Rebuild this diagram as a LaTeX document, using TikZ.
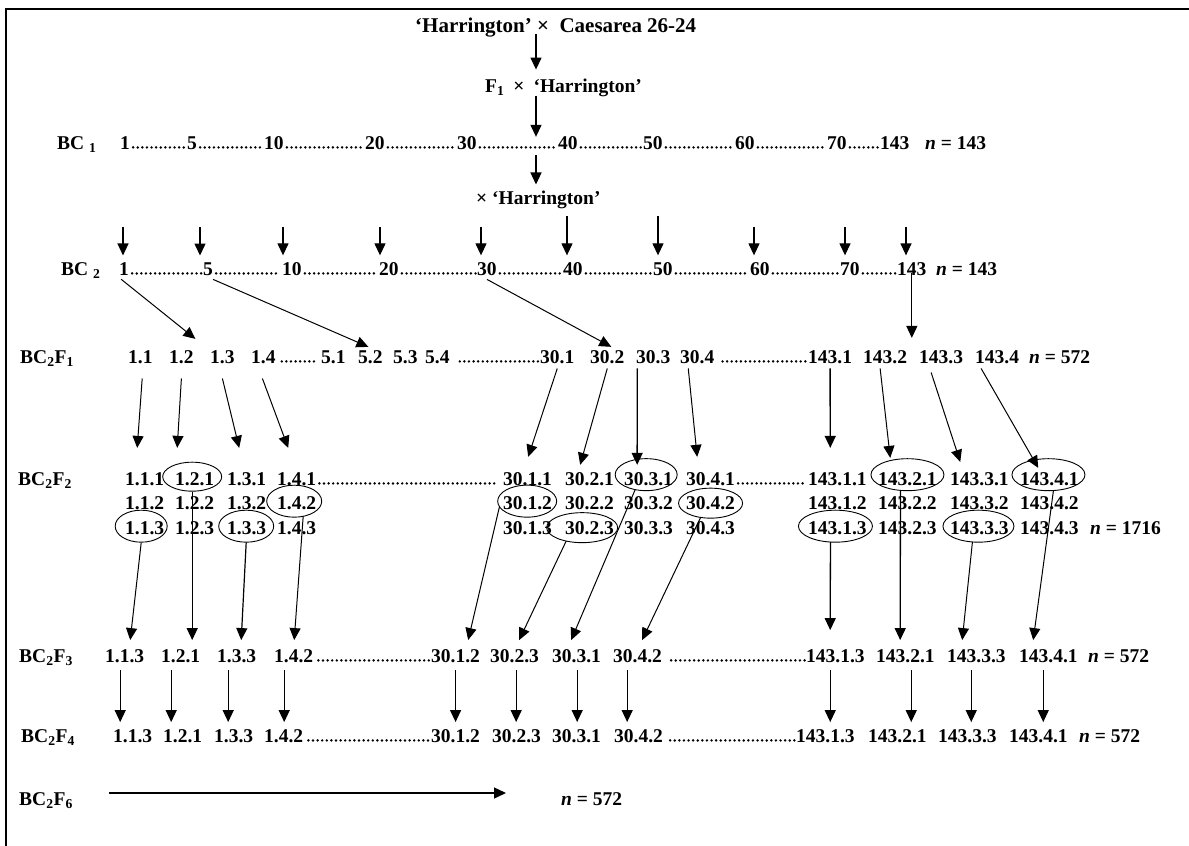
\documentclass[tikz,border=0pt]{standalone}
\usepackage{fontspec}
\setmainfont{Liberation Serif}
\usetikzlibrary{arrows.meta,shapes.geometric}
\newcommand\nd[4]{\node[num] (#1) at (#2,#3) {#4};}
\newcommand\dotsb[4]{\draw[dotl] ([shift={(#3,-1.6)}]#1.base east) -- ([shift={(-#4,-1.6)}]#2.base west);}
\begin{document}
\begin{tikzpicture}[x=1pt,y=-1pt,
  num/.style={anchor=base west,inner sep=0pt,font=\fontsize{19.5}{23}\selectfont\bfseries},
  dotl/.style={line width=2.7pt,line cap=round,dash pattern=on 0pt off 4.6pt},
  arr/.style={-{Triangle[length=12pt,width=11pt]},line width=1.1pt},
  ell/.style={draw,ellipse,inner sep=0pt,line width=0.9pt}]
\useasboundingbox (0,0) rectangle (1189,846);
\fill[white] (0,0) rectangle (1189,846);
\draw[line width=2.4pt] (1189,9) -- (6,9) -- (6,846);

% top
\node[num,font=\fontsize{21}{25}\selectfont\bfseries] (top) at (415,32) {‘Harrington’ ×\ \ Caesarea 26-24};
\node[num] (f1x) at (485,92) {F\textsubscript{1}\hspace{9pt}×\hspace{9pt}‘Harrington’};
\coordinate (ax) at (536,0);

% BC1
\node[num] (bc1) at (57,149) {BC \textsubscript{1}};
\nd{a1}{120}{149}{1}
\nd{a2}{187}{149}{5}
\nd{a3}{264}{149}{10}
\nd{a4}{365}{149}{20}
\nd{a5}{457}{149}{30}
\nd{a6}{558}{149}{40}
\nd{a7}{643}{149}{50}
\nd{a8}{735}{149}{60}
\nd{a9}{827}{149}{70}
\nd{a10}{880}{149}{143}
\nd{an}{925}{149}{\textit{n} = 143}
\dotsb{a1}{a2}{3}{1.5}\dotsb{a2}{a3}{3}{1.5}\dotsb{a3}{a4}{3}{1.5}
\dotsb{a4}{a5}{3}{1.5}\dotsb{a5}{a6}{3}{1.5}\dotsb{a6}{a7}{3}{1.5}
\dotsb{a7}{a8}{3}{1.5}\dotsb{a8}{a9}{3}{1.5}\dotsb{a9}{a10}{3}{1.5}

\node[num] (xh) at (476,204) {×\ ‘Harrington’};

\draw[arr,line width=1.3pt,shorten <=-3pt,shorten >=8.7pt] (top.south -| ax) -- (f1x.north -| ax);
\draw[arr,line width=1.3pt,shorten <=-1pt,shorten >=-1pt] (f1x.south -| ax) -- (a6.north -| ax);
\draw[arr,line width=1.3pt,shorten <=6pt,shorten >=5.8pt] (a6.south -| ax) -- (xh.north -| ax);

% BC2
\node[num] (bc2) at (61,275) {BC \textsubscript{2}};
\nd{b1}{119}{275}{1}
\nd{b2}{203}{275}{5}
\nd{b3}{282}{275}{10}
\nd{b4}{379}{275}{20}
\nd{b5}{477}{275}{30}
\nd{b6}{563}{275}{40}
\nd{b7}{653}{275}{50}
\nd{b8}{750}{275}{60}
\nd{b9}{840}{275}{70}
\nd{b10}{897}{275}{143}
\nd{bn}{936}{275}{\textit{n} = 143}
\dotsb{b1}{b2}{3}{1.5}\dotsb{b2}{b3}{3}{1.5}\dotsb{b3}{b4}{3}{1.5}
\dotsb{b4}{b5}{3}{1.5}\dotsb{b5}{b6}{3}{1.5}\dotsb{b6}{b7}{3}{1.5}
\dotsb{b7}{b8}{3}{1.5}\dotsb{b8}{b9}{3}{1.5}\dotsb{b9}{b10}{3}{1.5}
\foreach \n/\x/\t in {b1/123/227,b2/200/227,b3/283/227,b4/380/227,b5/481/227,
  b6/567/216,b7/658/216,b8/754/227,b9/845/227,b10/906/227}{
  \coordinate (u\n) at (\x,\t);
  \draw[arr,line width=1.3pt,shorten >=6.5pt] (u\n) -- (u\n |- \n.north);
}

% BC2F1
\node[num] (l1) at (20,363) {BC\textsubscript{2}F\textsubscript{1}};
\nd{c11}{128}{363}{1.1}
\nd{c12}{169}{363}{1.2}
\nd{c13}{210}{363}{1.3}
\nd{c14}{251}{363}{1.4}
\nd{c51}{321}{363}{5.1}
\nd{c52}{358}{363}{5.2}
\nd{c53}{393}{363}{5.3}
\nd{c54}{425}{363}{5.4}
\nd{c301}{540}{363}{30.1}
\nd{c302}{590}{363}{30.2}
\nd{c303}{636}{363}{30.3}
\nd{c304}{680}{363}{30.4}
\nd{c1431}{808}{363}{143.1}
\nd{c1432}{863}{363}{143.2}
\nd{c1433}{919}{363}{143.3}
\nd{c1434}{975}{363}{143.4}
\nd{cn}{1029}{363}{\textit{n} = 572}
\dotsb{c14}{c51}{6}{4}
\dotsb{c54}{c301}{10}{1.5}
\dotsb{c304}{c1431}{8}{1.5}

\draw[arr,line width=1pt] ([shift={(-3,4)}]b1.south) -- ([shift={(14,-11)}]c12.north);
\draw[arr,line width=1pt] ([shift={(5,4)}]b2.south) -- ([shift={(-2,-3)}]c52.north);
\draw[arr,line width=1pt] ([shift={(0,4)}]b5.south) -- ([shift={(4,-3)}]c302.north);
\draw[arr,line width=1.3pt,shorten <=-2pt,shorten >=12pt] (b10.south) -- (b10.south |- c1432.north);

% BC2F2
\node[num] (l2) at (18,485) {BC\textsubscript{2}F\textsubscript{2}};
\foreach \r/\y in {1/485,2/509.5,3/534}{
  \nd{g11\r}{125}{\y}{1.1.\r}
  \nd{g12\r}{175}{\y}{1.2.\r}
  \nd{g13\r}{227}{\y}{1.3.\r}
  \nd{g14\r}{277}{\y}{1.4.\r}
  \nd{g301\r}{503}{\y}{30.1.\r}
  \nd{g302\r}{565}{\y}{30.2.\r}
  \nd{g303\r}{624}{\y}{30.3.\r}
  \nd{g304\r}{686}{\y}{30.4.\r}
  \nd{g1431\r}{808}{\y}{143.1.\r}
  \nd{g1432\r}{878}{\y}{143.2.\r}
  \nd{g1433\r}{950}{\y}{143.3.\r}
  \nd{g1434\r}{1020}{\y}{143.4.\r}
}
\nd{gn}{1090}{534}{\textit{n} = 1716}
\dotsb{g141}{g3011}{3}{5}
\dotsb{g3041}{g14311}{3}{1.5}

\node[ell,minimum width=59pt,minimum height=29pt] (e121) at ([shift={(-2.5,-2)}]g121.center) {};
\node[ell,minimum width=55pt,minimum height=32pt] (e142) at ([shift={(-2.5,-2)}]g142.center) {};
\node[ell,minimum width=52pt,minimum height=32pt] (e113) at ([shift={(-3.5,-1.5)}]g113.center) {};
\node[ell,minimum width=55pt,minimum height=32pt] (e133) at ([shift={(-0.5,-1.5)}]g133.center) {};
\node[ell,minimum width=62pt,minimum height=32pt] (e3031) at ([shift={(-2.4,-4)}]g3031.center) {};
\node[ell,minimum width=59pt,minimum height=32pt] (e3012) at ([shift={(-0.4,-2)}]g3012.center) {};
\node[ell,minimum width=64pt,minimum height=30pt] (e3042) at (g3042.center) {};
\node[ell,minimum width=71pt,minimum height=30pt] (e3023) at ([shift={(-7.4,0)}]g3023.center) {};
\node[ell,minimum width=73pt,minimum height=32pt] (e14321) at ([shift={(0,-4)}]g14321.center) {};
\node[ell,minimum width=73pt,minimum height=32pt] (e14341) at ([shift={(-1,-4)}]g14341.center) {};
\node[ell,minimum width=74pt,minimum height=32pt] (e14313) at ([shift={(-2,-1.5)}]g14313.center) {};
\node[ell,minimum width=71pt,minimum height=32pt] (e14333) at ([shift={(-1,-1.5)}]g14333.center) {};

% BC2F1 -> BC2F2
\draw[arr,line width=1pt] ([shift={(1.8,15)}]c11.south) -- ([shift={(-7.5,-24)}]g111.north);
\draw[arr,line width=1pt] ([shift={(0,15)}]c12.south) -- ([shift={(-17.5,-24)}]g121.north);
\draw[arr,line width=1pt] ([shift={(0,15)}]c13.south) -- ([shift={(-7.5,-24)}]g131.north);
\draw[arr,line width=1pt] ([shift={(-1,15)}]c14.south) -- ([shift={(-8.5,-24)}]g141.north);
\draw[arr,line width=1pt] ([shift={(0,5)}]c301.south) -- ([shift={(0.6,-15)}]g3011.north);
\draw[arr,line width=1pt] ([shift={(0,5)}]c302.south) -- ([shift={(-9.4,-7)}]g3021.north);
\draw[arr,line width=1.4pt] ([shift={(-16,5)}]c303.south) -- ([shift={(-11.4,-7)}]g3031.north);
\draw[arr,line width=1pt] ([shift={(-9,5)}]c304.south) -- ([shift={(-13.4,-15)}]g3041.north);
\draw[arr,line width=1.4pt] ([shift={(0,5)}]c1431.south) -- ([shift={(-7.2,-24)}]g14311.north);
\draw[arr,line width=1pt] ([shift={(-5,5)}]c1432.south) -- ([shift={(-17.2,-14)}]g14321.north);
\draw[arr,line width=1pt] ([shift={(-10,9)}]c1433.south) -- ([shift={(-19.2,-10)}]g14331.north);
\draw[arr,line width=1pt] ([shift={(-16,5)}]c1434.south) -- ([shift={(-11.2,-4)}]g14341.north);

% BC2F3
\node[num] (l3) at (19,662) {BC\textsubscript{2}F\textsubscript{3}};
\nd{h113}{105}{662}{1.1.3}
\nd{h121}{161}{662}{1.2.1}
\nd{h133}{217}{662}{1.3.3}
\nd{h142}{274}{662}{1.4.2}
\nd{h3012}{431}{662}{30.1.2}
\nd{h3023}{490}{662}{30.2.3}
\nd{h3031}{552}{662}{30.3.1}
\nd{h3042}{613}{662}{30.4.2}
\nd{h14313}{806}{662}{143.1.3}
\nd{h14321}{876}{662}{143.2.1}
\nd{h14333}{947}{662}{143.3.3}
\nd{h14341}{1019}{662}{143.4.1}
\nd{hn}{1088}{662}{\textit{n} = 572}
\dotsb{h142}{h3012}{5}{1}
\dotsb{h3042}{h14313}{9}{1}

% BC2F2 -> BC2F3
\draw[arr,line width=1pt] (e113.south) -- ([shift={(5.5,-8.8)}]h113.north);
\draw[arr,line width=1.2pt] (e121.south) -- ([shift={(11.5,-8.8)}]h121.north);
\draw[arr,line width=1.2pt] (e133.south) -- ([shift={(4.5,-8.8)}]h133.north);
\draw[arr,line width=1pt] ([shift={(9,15)}]e142.center) -- ([shift={(0.5,-8.8)}]h142.north);
\draw[arr,line width=1pt] ([shift={(-27.7,5.5)}]e3012.center) -- ([shift={(12.6,-8.8)}]h3012.north);
\draw[arr,line width=1pt] ([shift={(-16,13.4)}]e3023.center) -- ([shift={(4.6,-8.8)}]h3023.north);
\draw[arr,line width=1pt] ([shift={(-11,15)}]e3031.center) -- ([shift={(-5.4,-8.8)}]h3031.north);
\draw[arr,line width=1pt] ([shift={(-10,14.3)}]e3042.center) -- ([shift={(4.6,-8.8)}]h3042.north);
\draw[arr,line width=1.3pt] ([shift={(-5,15.6)}]e14313.center) -- ([shift={(-5.25,-18.8)}]h14313.north);
\draw[arr,line width=1.3pt] ([shift={(-7,15.6)}]e14321.center) -- ([shift={(-5.25,-8.8)}]h14321.north);
\draw[arr,line width=1pt] ([shift={(-6,15.6)}]e14333.center) -- ([shift={(-14.25,-8.8)}]h14333.north);
\draw[arr,line width=1pt] ([shift={(5,15.8)}]e14341.center) -- ([shift={(-15.25,-8.8)}]h14341.north);

% BC2F4
\node[num] (l4) at (21,742) {BC\textsubscript{2}F\textsubscript{4}};
\nd{k113}{113}{742}{1.1.3}
\nd{k121}{163}{742}{1.2.1}
\nd{k133}{214}{742}{1.3.3}
\nd{k142}{264}{742}{1.4.2}
\nd{k3012}{431}{742}{30.1.2}
\nd{k3023}{492}{742}{30.2.3}
\nd{k3031}{552}{742}{30.3.1}
\nd{k3042}{614}{742}{30.4.2}
\nd{k14313}{796}{742}{143.1.3}
\nd{k14321}{868}{742}{143.2.1}
\nd{k14333}{938}{742}{143.3.3}
\nd{k14341}{1009}{742}{143.4.1}
\nd{kn}{1079}{742}{\textit{n} = 572}
\dotsb{k142}{k3012}{5}{1}
\dotsb{k3042}{k14313}{7}{1}

% BC2F3 -> BC2F4
\foreach \a/\da/\b/\db in {h113/-4.5/k113/-12.5, h121/-9.5/k121/-11.5, h133/-8.5/k133/-5.5,
  h142/-9.5/k142/0.5, h3012/0/k3012/0, h3023/1.6/k3023/-0.4, h3031/0.6/k3031/0.6,
  h3042/-10.4/k3042/-11.4, h14313/-5.2/k14313/4.8, h14321/5.8/k14321/13.8,
  h14333/-5.2/k14333/3.8, h14341/-5.2/k14341/4.8}{
  \draw[arr,line width=1.2pt] ([shift={(\da,8)}]\a.south) -- ([shift={(\db,-6.8)}]\b.north);
}

% BC2F6
\node[num] (l6) at (19,805) {BC\textsubscript{2}F\textsubscript{6}};
\nd{n6}{561}{805}{\textit{n} = 572}
\draw[arr,line width=1.3pt] ([shift={(36,-12)}]l6.base east) -- ([shift={(-55,-12)}]n6.base west);
\end{tikzpicture}
\end{document}
